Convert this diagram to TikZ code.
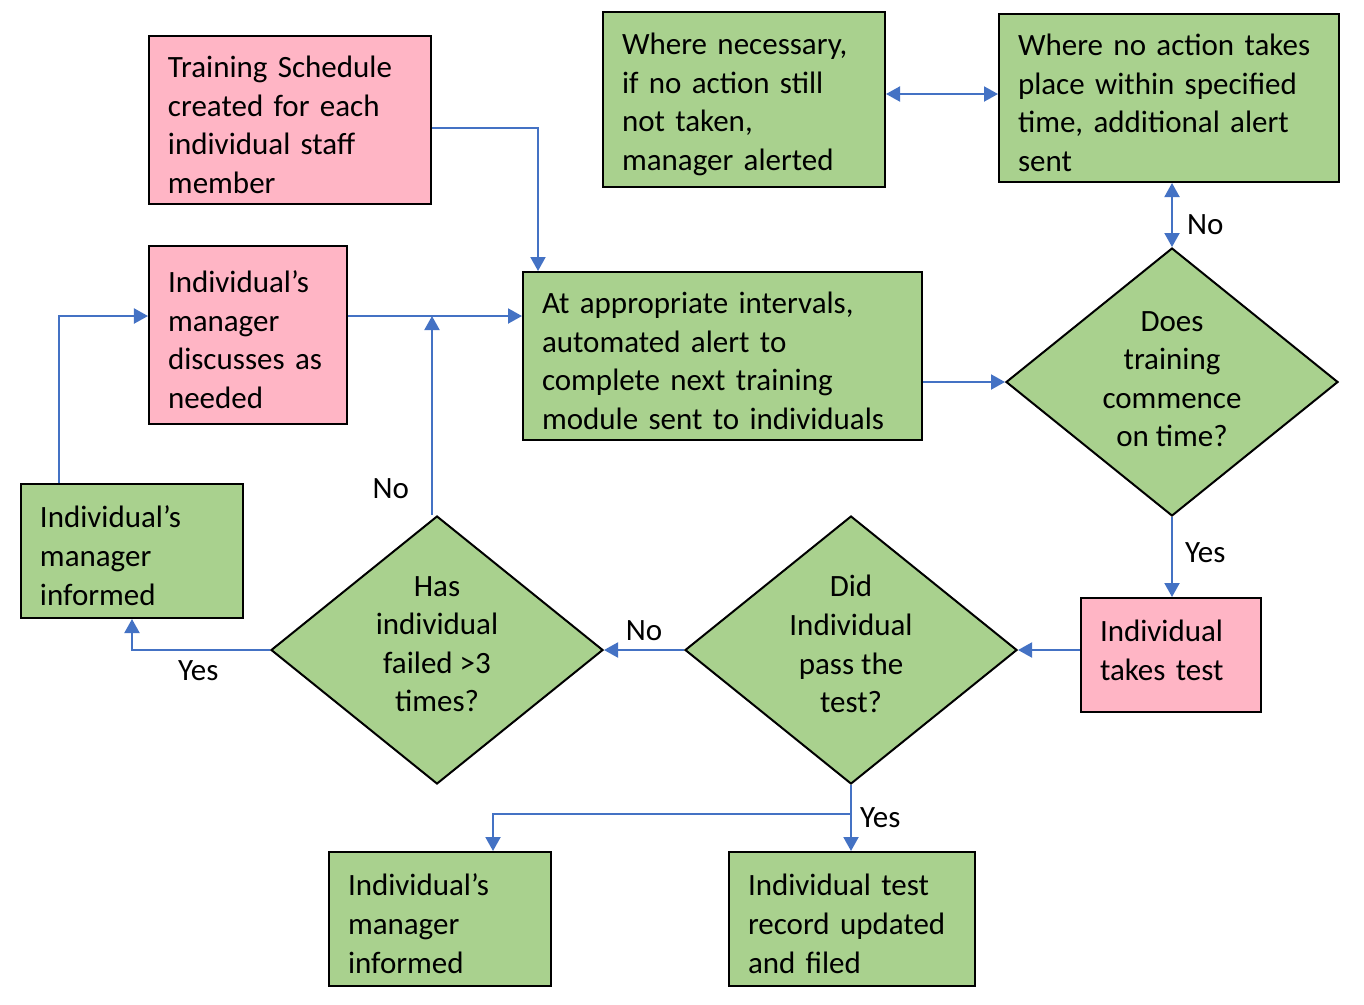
\documentclass[tikz,border=0pt]{standalone}
\usepackage{fontspec}
\setmainfont{Carlito}
\usetikzlibrary{shapes.geometric,arrows.meta}
\definecolor{pinkfill}{RGB}{255,181,197}
\definecolor{greenfill}{RGB}{169,209,142}
\definecolor{flowblue}{RGB}{68,114,196}
\newcommand{\firstline}{\rule{0pt}{15.5bp}}
\newcommand{\lastline}[1]{\rule[-#1]{0pt}{0pt}}
\tikzset{
  box/.style={draw=black,line width=1bp,rectangle,align=left,inner xsep=9.5bp,inner ysep=0pt},
  pinkbox/.style={box,fill=pinkfill},
  greenbox/.style={box,fill=greenfill},
  decision/.style={draw=black,line width=1bp,diamond,aspect=1.24,inner sep=0pt,align=center,
    fill=greenfill,minimum width=166bp,minimum height=134bp},
  flow/.style={draw=flowblue,line width=1bp},
  lbl/.style={inner sep=0pt},
}
\begin{document}
\begin{tikzpicture}[x=0.5bp,y=-0.5bp,>={Triangle[width=7.5bp,length=7bp]},
    font=\fontsize{15.5bp}{19.3bp}\selectfont]
      \useasboundingbox (0,0) rectangle (1364,1004);
      %% 
      % Node: train
      \node[pinkbox,minimum width=141bp,minimum height=84bp,text width=122bp] (train) at (290,120)
        {\firstline Training Schedule\\created for each\\individual staff\\member};
      % Node: discuss
      \node[pinkbox,minimum width=99bp,minimum height=89bp,text width=80bp] (discuss) at (248,335)
        {\firstline Individual’s\\manager\\discusses as\\needed};
      % Node: alert
      \node[greenbox,minimum width=199.5bp,minimum height=84bp,text width=180.5bp] (alert) at (722.5,356)
        {\firstline At appropriate intervals,\\automated alert to\\complete next training\\module sent to individuals};
      % Node: necessary
      \node[greenbox,minimum width=141bp,minimum height=87.5bp,text width=122bp] (necessary) at (744,99.5)
        {\firstline Where necessary,\\if no action still\\not taken,\\manager alerted};
      % Node: noaction
      \node[greenbox,minimum width=170bp,minimum height=84bp,text width=151bp] (noaction) at (1169,98)
        {\firstline Where no action takes\\place within specified\\time, additional alert\\sent};
      % Node: commence
      \node[decision] (commence) at (1172,382) {Does\\training\\commence\\on time?\lastline{3bp}};
      % Node: takes
      \node[pinkbox,minimum width=90bp,minimum height=57bp,text width=71bp] (takes) at (1171,655)
        {Individual\\takes test\lastline{5bp}};
      % Node: pass
      \node[decision] (pass) at (851,650) {Did\\Individual\\pass the\\test?\lastline{6bp}};
      % Node: failed
      \node[decision] (failed) at (437,650) {Has\\individual\\failed >3\\times?\lastline{6bp}};
      % Node: informL
      \node[greenbox,minimum width=111bp,minimum height=67bp,text width=92bp] (informL) at (132,551)
        {\firstline Individual’s\\manager\\informed};
      % Node: informB
      \node[greenbox,minimum width=111bp,minimum height=67bp,text width=92bp] (informB) at (440,919)
        {\firstline Individual’s\\manager\\informed};
      % Node: record
      \node[greenbox,minimum width=123bp,minimum height=67bp,text width=104bp] (record) at (852,919)
        {\firstline Individual test\\record updated\\and filed};
      % 
      \coordinate (nojoin) at (432,316);
      \coordinate (loopjoin) at (59,316);
      \coordinate (yesjoin) at (851,814);
      % Edge: train -> alert
      \draw[flow,->] ([yshift=-4bp]train.east) -| ([xshift=8bp]alert.north west);
      % Edge: discuss -> alert
      \draw[flow,->] (discuss.east |- nojoin) -- (alert.west |- nojoin);
      % Edge: alert -> commence
      \draw[flow,->] (alert.east |- commence.west) -- (commence.west);
      % Edge: necessary <-> noaction
      \draw[flow,<->] ([yshift=2.75bp]necessary.east) -- ([yshift=2.75bp]necessary.east -| noaction.west);
      % Edge: noaction <-> commence
      \draw[flow,<->] (noaction.south -| commence.north) -- (commence.north)
        node[lbl,pos=0.65,right=7bp] {No};
      % Edge: commence -> takes
      \draw[flow,->] (commence.south) -- (commence.south |- takes.north)
        node[lbl,pos=0.45,right=6bp] {Yes};
      % Edge: takes -> pass
      \draw[flow,->] (takes.west |- pass.east) -- (pass.east);
      % Edge: pass -> failed
      \draw[flow,->] (pass.west) -- (failed.east) node[lbl,midway,above=4bp] {No};
      % Edge: pass -> record
      \draw[flow,->] (pass.south) -- (pass.south |- record.north)
        node[lbl,midway,right=4bp] {Yes};
      % Edge: pass -> informB
      \draw[flow,->] (yesjoin) -| ([xshift=26.5bp]informB.north);
      % Edge: failed -> alert
      \draw[flow,->] (failed.north -| nojoin) -- (nojoin)
        node[lbl,pos=0.13,left=11bp] {No};
      % Edge: failed -> informL
      \draw[flow,->] (failed.west) -| (informL.south)
        node[lbl,pos=0.26,below=5bp] {Yes};
      % Edge: informL -> discuss
      \draw[flow,->] (informL.north -| loopjoin) |- (discuss.west |- loopjoin);
      % 
    \end{tikzpicture}
\end{document}
